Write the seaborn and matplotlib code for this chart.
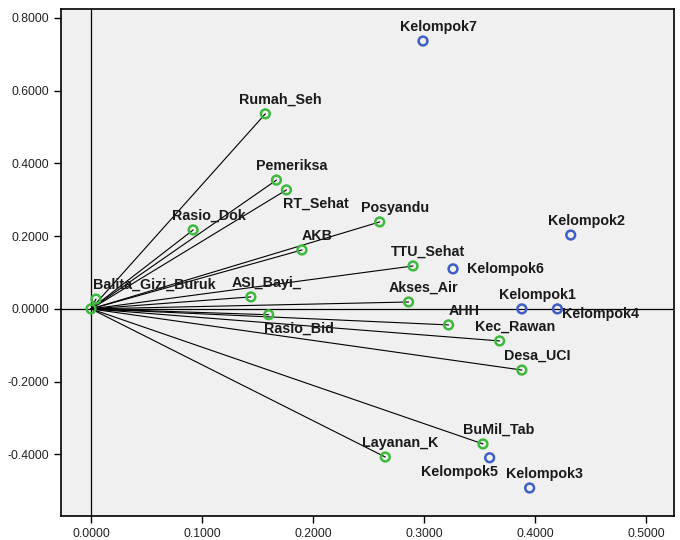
import pandas as pd
import seaborn as sns
import matplotlib.pyplot as plt

# variable loadings (green points, drawn with a line from the origin)
var_names = ['Rumah_Seh', 'Pemeriksa', 'RT_Sehat', 'Rasio_Dok', 'Posyandu', 'AKB',
             'TTU_Sehat', 'ASI_Bayi_', 'Rasio_Bid', 'Akses_Air', 'AHH', 'Kec_Rawan',
             'Desa_UCI', 'BuMil_Tab', 'Layanan_K', 'Balita_Gizi_Buruk', '']
var_x = [0.157, 0.167, 0.176, 0.092, 0.260, 0.190, 0.290, 0.144, 0.160, 0.286,
         0.322, 0.368, 0.388, 0.353, 0.265, 0.0045, 0.0]
var_y = [0.536, 0.354, 0.327, 0.217, 0.239, 0.162, 0.118, 0.033, -0.016, 0.019,
         -0.044, -0.088, -0.168, -0.371, -0.407, 0.027, 0.0]

# group scores (blue points)
grp_names = ['Kelompok7', 'Kelompok2', 'Kelompok6', 'Kelompok1', 'Kelompok4',
             'Kelompok5', 'Kelompok3']
grp_x = [0.299, 0.432, 0.326, 0.388, 0.420, 0.359, 0.395]
grp_y = [0.736, 0.203, 0.110, 0.0, 0.0, -0.409, -0.492]

x_ticks = [0.0, 0.1, 0.2, 0.3, 0.4, 0.5]
y_ticks = [-0.4, -0.2, 0.0, 0.2, 0.4, 0.6, 0.8]

GREEN = '#3dba3d'
BLUE = '#3e5fc7'

# label offsets in points (default: above right of the marker)
label_offsets = {
    'RT_Sehat': (21, -10, 'center'),
    'Rasio_Bid': (22, -10, 'center'),
    'Kelompok6': (10, 0, 'left'),
    'Kelompok4': (31, -4, 'center'),
    'Kelompok5': (-22, -10, 'center'),
    'Balita_Gizi_Buruk': (42, 10, 'center'),
}

df_var = pd.DataFrame({'x': var_x, 'y': var_y, 'label': var_names})
df_grp = pd.DataFrame({'x': grp_x, 'y': grp_y, 'label': grp_names})

sns.set_style('white')
plt.rcParams['font.family'] = ['Liberation Sans', 'DejaVu Sans']

fig = plt.figure(figsize=(6.8, 5.4), dpi=100)
ax = fig.add_axes([61 / 680, 1 - 516 / 540, 613 / 680, 507 / 540])
ax.set_facecolor('#f0f0f0')

ax.axhline(0, color='black', lw=0.9, zorder=1)
ax.axvline(0, color='black', lw=0.9, zorder=1)

for _, r in df_var.iterrows():
    ax.plot([0, r['x']], [0, r['y']], color='black', lw=0.8, zorder=2)

sns.scatterplot(data=df_var, x='x', y='y', ax=ax, s=40, facecolor='none',
                edgecolor=GREEN, linewidth=1.8, zorder=3)
sns.scatterplot(data=df_grp, x='x', y='y', ax=ax, s=40, facecolor='none',
                edgecolor=BLUE, linewidth=1.8, zorder=3)

for df in (df_var, df_grp):
    for _, r in df.iterrows():
        if not r['label']:
            continue
        dx, dy, ha = label_offsets.get(r['label'], (11, 10, 'center'))
        ax.annotate(r['label'], (r['x'], r['y']), xytext=(dx, dy),
                    textcoords='offset points', ha=ha, va='center',
                    fontsize=10.3, fontweight='bold', color='#1a1a1a', zorder=4)

ax.set_xlim(-0.027, 0.525)
ax.set_ylim(-0.569, 0.824)
ax.set_xticks(x_ticks)
ax.set_yticks(y_ticks)
ax.set_xticklabels([f'{v:.4f}' for v in x_ticks])
ax.set_yticklabels([f'{v:.4f}' for v in y_ticks])
ax.tick_params(direction='out', length=5, width=1, colors='black',
               labelsize=8.7, labelcolor='#222222', bottom=True, left=True)
ax.set_xlabel('')
ax.set_ylabel('')
for s in ax.spines.values():
    s.set_color('black')
    s.set_linewidth(1.2)

fig.savefig('out.png', dpi=100)
